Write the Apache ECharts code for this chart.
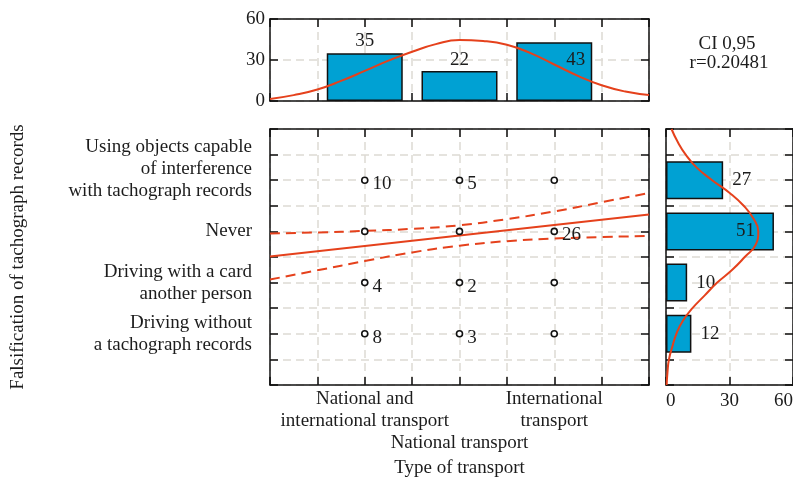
<!DOCTYPE html>
<html><head><meta charset="utf-8">
<script src="https://cdn.jsdelivr.net/npm/echarts/dist/echarts.min.js"></script>
<style>html,body{margin:0;padding:0;background:#fff}#c{width:793px;height:478px}</style>
</head><body><div id="c"></div>
<script>
// ---------- data ----------
const transportTypes = ['National and\ninternational transport', 'National transport', 'International\ntransport'];
const transportPos = [1, 2, 3];
const falsificationTypes = ['Driving without\na tachograph records', 'Driving with a card\nanother person', 'Never', 'Using objects capable\nof interference\nwith tachograph records'];
const falsificationPos = [1, 2, 3, 4];
// point labels: rows = falsification (bottom to top), cols = transport
const pointLabels = [
  ['8', '3', ''],
  ['4', '2', ''],
  ['', '', '26'],
  ['10', '5', '']
];
const transportCounts = [35, 22, 43];
const falsificationCounts = [12, 10, 51, 27];
const fitX = [0, 4];
const fitY = [2.51, 3.33];
const ciX = [0, 0.5, 1, 1.5, 2, 2.5, 3, 3.5, 4];
const ciUpper = [2.96, 2.98, 3.01, 3.05, 3.12, 3.24, 3.39, 3.57, 3.75];
const ciLower = [2.06, 2.24, 2.42, 2.59, 2.72, 2.81, 2.86, 2.89, 2.91];
const topCurveX = [0, 0.25, 0.5, 0.75, 1, 1.25, 1.5, 1.75, 2, 2.25, 2.5, 2.75, 3, 3.25, 3.5, 3.75, 4];
const topCurveY = [1.5, 4.3, 8.4, 14.7, 22, 29.5, 36, 41.6, 44.6, 43.9, 41.2, 35, 26.7, 18.4, 11.5, 6.9, 4.4];
const rightCurveY = [0, 0.25, 0.5, 0.75, 1, 1.25, 1.5, 1.75, 2, 2.25, 2.5, 2.75, 3, 3.25, 3.5, 3.75, 4, 4.25, 4.5, 4.75, 5];
const rightCurveX = [0.3, 0.7, 1.4, 3.0, 4.9, 7.9, 12.5, 18.3, 24.2, 31.3, 37.2, 42.5, 43.6, 41.3, 36.7, 30.1, 21.8, 14.4, 9.3, 5.5, 2.6];
const xTitle = 'Type of transport';
const yTitle = 'Falsification of tachograph records';
const ciText = 'CI 0,95';
const rText = 'r=0.20481';

// ---------- style ----------
const FONT = "'Liberation Serif','Times New Roman',serif";
const FS = 19;
const INK = '#111';
const TXT = '#1c1c1c';
const RED = '#e5411c';
const BLUE = '#00a1d3';
const GRIDC = '#dddad4';

const split = {show: true, lineStyle: {color: GRIDC, type: [8, 5], width: 1.5}};
function ax(o) {
  return Object.assign({
    type: 'value',
    axisLine: {show: true, onZero: false, lineStyle: {color: INK, width: 1.5}},
    axisTick: {show: true, inside: true, length: 8, lineStyle: {color: INK, width: 1.5}},
    axisLabel: {show: false},
    splitLine: {show: false}
  }, o);
}
const lblBase = {show: true, color: TXT, fontFamily: FONT, fontSize: FS, lineHeight: 22};

const chart = echarts.init(document.getElementById('c'));

const scatterData = [];
falsificationPos.forEach((y, r) => {
  transportPos.forEach((x, c) => {
    scatterData.push({value: [x, y], name: pointLabels[r][c]});
  });
});

const rightBarData = ['-', '-', '-', '-', '-', '-'];
const rightLabelCfg = [
  {position: 'right', distance: 9},
  {position: 'right', distance: 9},
  {position: 'insideRight', distance: 19},
  {position: 'right', distance: 9}
];
falsificationPos.forEach((y, i) => {
  rightBarData[y] = {value: falsificationCounts[i], label: rightLabelCfg[i]};
});
const topLabelCfg = [
  {position: 'top', distance: 1},
  {position: 'top', distance: 0},
  {position: 'insideTopRight', distance: 7}
];
const topBarData = transportPos.map((x, i) => ({value: [x, transportCounts[i]], label: topLabelCfg[i]}));

const option = {
  animation: false,
  backgroundColor: '#fff',
  textStyle: {fontFamily: FONT},
  grid: [
    {left: 270, top: 129, width: 379, height: 256, outerBoundsMode: 'none'},
    {left: 270, top: 19, width: 379, height: 82, outerBoundsMode: 'none'},
    {left: 666, top: 129, width: 127, height: 256, outerBoundsMode: 'none'}
  ],
  xAxis: [
    ax({gridIndex: 0, position: 'bottom', min: 0, max: 4, interval: 0.5, splitLine: split,
      name: xTitle, nameLocation: 'middle', nameGap: 71,
      nameTextStyle: {fontFamily: FONT, fontSize: FS, color: TXT},
      axisLabel: Object.assign({}, lblBase, {margin: 3, formatter: v => {
        const i = transportPos.indexOf(v);
        if (i < 0) return '';
        return i === 1 ? '\n\n' + transportTypes[i] : transportTypes[i];
      }})}),
    ax({gridIndex: 0, position: 'top', min: 0, max: 4, interval: 0.5}),
    ax({gridIndex: 1, position: 'bottom', min: 0, max: 4, interval: 0.5, splitLine: split}),
    ax({gridIndex: 1, position: 'top', min: 0, max: 4, interval: 0.5}),
    ax({gridIndex: 2, position: 'bottom', min: 0, max: 60, interval: 30, splitLine: split,
      axisLabel: Object.assign({}, lblBase, {margin: 5, alignMinLabel: 'left', alignMaxLabel: 'right'})}),
    ax({gridIndex: 2, position: 'top', min: 0, max: 60, interval: 30})
  ],
  yAxis: [
    ax({gridIndex: 0, position: 'left', min: 0, max: 5, interval: 0.5, splitLine: split,
      name: yTitle, nameLocation: 'middle', nameGap: 242,
      nameTextStyle: {fontFamily: FONT, fontSize: FS, color: TXT},
      axisLabel: Object.assign({}, lblBase, {margin: 18, align: 'right', formatter: v => {
        const i = falsificationPos.indexOf(v);
        if (i < 0) return '';
        return i === 3 ? falsificationTypes[i] + '\n ' : falsificationTypes[i];
      }})}),
    ax({gridIndex: 0, position: 'right', min: 0, max: 5, interval: 0.5}),
    ax({gridIndex: 1, position: 'left', min: 0, max: 60, interval: 30, splitLine: split,
      axisLabel: Object.assign({}, lblBase, {margin: 5})}),
    ax({gridIndex: 1, position: 'right', min: 0, max: 60, interval: 30}),
    ax({gridIndex: 2, position: 'left', min: 0, max: 5, interval: 0.5, splitLine: split}),
    ax({gridIndex: 2, position: 'right', min: 0, max: 5, interval: 0.5}),
    {gridIndex: 2, type: 'category', position: 'left', show: false, boundaryGap: false,
      data: ['0', '1', '2', '3', '4', '5']}
  ],
  graphic: [
    {type: 'text', position: [727, 44], style: {text: ciText, fill: TXT, font: FS + 'px ' + FONT, textAlign: 'center', textVerticalAlign: 'middle'}},
    {type: 'text', position: [729, 63], style: {text: rText, fill: TXT, font: FS + 'px ' + FONT, textAlign: 'center', textVerticalAlign: 'middle'}}
  ],
  series: [
    {type: 'line', xAxisIndex: 0, yAxisIndex: 0, data: fitX.map((x, i) => [x, fitY[i]]),
      showSymbol: false, lineStyle: {color: RED, width: 2}, z: 3},
    {type: 'line', xAxisIndex: 0, yAxisIndex: 0, data: ciX.map((x, i) => [x, ciUpper[i]]), smooth: true,
      showSymbol: false, lineStyle: {color: RED, width: 2, type: [10, 6]}, z: 3},
    {type: 'line', xAxisIndex: 0, yAxisIndex: 0, data: ciX.map((x, i) => [x, ciLower[i]]), smooth: true,
      showSymbol: false, lineStyle: {color: RED, width: 2, type: [10, 6]}, z: 3},
    {type: 'scatter', xAxisIndex: 0, yAxisIndex: 0, data: scatterData, symbol: 'circle', symbolSize: 6,
      itemStyle: {color: '#fff', borderColor: INK, borderWidth: 1.6, opacity: 1}, z: 5,
      label: Object.assign({}, lblBase, {position: 'right', distance: 4, offset: [0, 4], formatter: '{b}'})},
    {type: 'bar', xAxisIndex: 2, yAxisIndex: 2, data: topBarData, barWidth: 76,
      itemStyle: {color: BLUE, borderColor: INK, borderWidth: 1.5},
      label: Object.assign({}, lblBase), z: 2},
    {type: 'line', xAxisIndex: 2, yAxisIndex: 2, data: topCurveX.map((x, i) => [x, topCurveY[i]]), smooth: true,
      showSymbol: false, lineStyle: {color: RED, width: 2}, z: 4},
    {type: 'bar', xAxisIndex: 4, yAxisIndex: 6, data: rightBarData, barWidth: 38,
      itemStyle: {color: BLUE, borderColor: INK, borderWidth: 1.5},
      label: Object.assign({}, lblBase), z: 2},
    {type: 'line', xAxisIndex: 4, yAxisIndex: 4, data: rightCurveY.map((y, i) => [rightCurveX[i], y]), smooth: true,
      showSymbol: false, lineStyle: {color: RED, width: 2}, z: 4}
  ]
};
chart.setOption(option);
</script>
</body></html>
